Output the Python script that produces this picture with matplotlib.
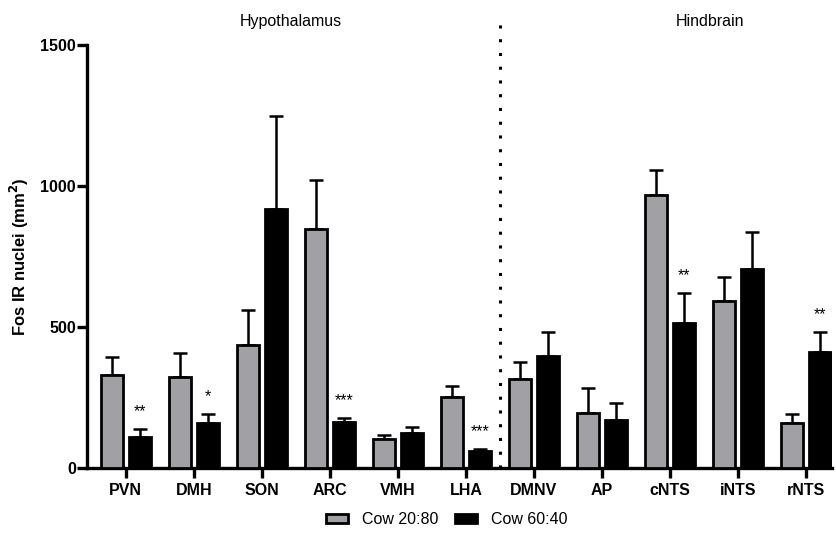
import matplotlib
matplotlib.use("Agg")
import matplotlib.pyplot as plt
import numpy as np

plt.rcParams['font.family'] = ['Liberation Sans', 'DejaVu Sans']

regions = ["PVN", "DMH", "SON", "ARC", "VMH", "LHA", "DMNV", "AP", "cNTS", "iNTS", "rNTS"]
cow2080 = [330, 323, 436, 848, 103, 252, 316, 195, 968, 592, 160]
cow2080_err = [64, 85, 124, 173, 15, 39, 60, 89, 89, 85, 31]
cow6040 = [110, 160, 918, 163, 124, 60, 397, 170, 514, 706, 411]
cow6040_err = [28, 31, 330, 14, 21, 7, 85, 61, 107, 131, 71]
sig6040 = ["**", "*", "", "***", "", "***", "", "", "**", "", "**"]
groups = ["Hypothalamus", "Hindbrain"]
yticks = [0, 500, 1000, 1500]

fig = plt.figure(figsize=(8.37, 5.40), dpi=100)
ax = fig.add_axes([87/837, 72/540, (832-87)/837, (468-45)/540])

x = np.arange(len(regions))
off = 0.205
w = 0.33
gray = "#a0a0a5"

ax.bar(x - off, cow2080, w, color=gray, edgecolor="black", linewidth=2.0, zorder=3, label="Cow 20:80")
ax.bar(x + off, cow6040, w, color="black", edgecolor="black", linewidth=2.0, zorder=3, label="Cow 60:40")
ax.errorbar(x - off, cow2080, yerr=[np.zeros(len(x)), cow2080_err], fmt="none", ecolor="black",
            elinewidth=1.8, capsize=5, capthick=1.8, zorder=2)
ax.errorbar(x + off, cow6040, yerr=[np.zeros(len(x)), cow6040_err], fmt="none", ecolor="black",
            elinewidth=1.8, capsize=5, capthick=1.8, zorder=2)

for xi, v, e, s in zip(x, cow6040, cow6040_err, sig6040):
    if s:
        ax.text(xi + off, v + e + 35, s, ha="center", va="bottom", fontsize=11.5)

ax.set_xlim(-0.57, 10.38)
ax.set_ylim(0, 1500)
ax.set_yticks(yticks)
ax.set_xticks(x)
ax.set_xticklabels(regions, fontsize=11.5, fontweight="bold")
for lab in ax.get_yticklabels():
    lab.set_fontweight("bold")
    lab.set_fontsize(11.5)
ax.set_ylabel("Fos IR nuclei (mm$^\\mathbf{2}$)", fontsize=12, fontweight="bold", labelpad=6.5)

for s in ["top", "right"]:
    ax.spines[s].set_visible(False)
for s in ["left", "bottom"]:
    ax.spines[s].set_linewidth(2.4)
ax.tick_params(axis="y", width=2.4, length=7, pad=1)
ax.tick_params(axis="x", width=2.4, length=7, pad=4)

ax.plot([5.5, 5.5], [0, 1575], linestyle=(0, (1, 3.5)), color="black", linewidth=2.2, clip_on=False, zorder=1)

ax.text(2.43, 1582, groups[0], ha="center", va="center", fontsize=11.5, clip_on=False)
ax.text(8.58, 1582, groups[1], ha="center", va="center", fontsize=11.5, clip_on=False)

leg = ax.legend(loc="center", bbox_to_anchor=(0.483, -0.122), ncol=2, frameon=False,
                fontsize=11.5, handlelength=1.4, handleheight=0.5, columnspacing=1.0, handletextpad=0.9)

fig.savefig("out.png", dpi=100)
